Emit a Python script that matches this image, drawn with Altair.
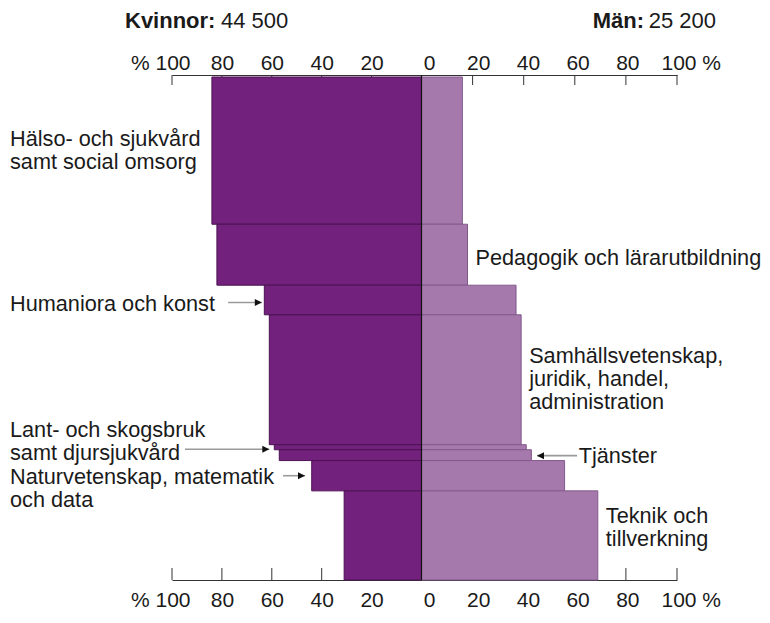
import altair as alt
import pandas as pd

# ---------------- data ----------------
categories = [
    "Hälso- och sjukvård samt social omsorg",
    "Pedagogik och lärarutbildning",
    "Humaniora och konst",
    "Samhällsvetenskap, juridik, handel, administration",
    "Lant- och skogsbruk samt djursjukvård",
    "Tjänster",
    "Naturvetenskap, matematik och data",
    "Teknik och tillverkning",
]
label_lines = [
    ["Hälso- och sjukvård", "samt social omsorg"],
    ["Pedagogik och lärarutbildning"],
    ["Humaniora och konst"],
    ["Samhällsvetenskap,", "juridik, handel,", "administration"],
    ["Lant- och skogsbruk", "samt djursjukvård"],
    ["Tjänster"],
    ["Naturvetenskap, matematik", "och data"],
    ["Teknik och", "tillverkning"],
]
label_side = ["left", "right", "left", "right", "left", "arrow_right", "left", "right"]
women_pct = [84, 82, 63, 61, 59, 57, 44, 31]
men_pct = [16, 18, 37, 39, 41, 43, 56, 69]
graduates = [20400, 8450, 4100, 18000, 700, 1500, 4200, 12350]
total_women = 44500
total_men = 25200
tick_values = [-100, -80, -60, -40, -20, 0, 20, 40, 60, 80, 100]

# ---------------- layout / style ----------------
W, H = 505, 503
ZERO_PX = 249.5
FONT = "Liberation Sans, Arial, sans-serif"
TXT = "#1a1a1a"
WOMEN_FILL, WOMEN_STROKE = "#72217c", "#4c1053"
MEN_FILL, MEN_STROKE = "#a679ad", "#82598b"
AXIS_COLOR = "#333333"
LABEL_SIZE = 21.7
LINE_H = 23

label_dy_px = [-12, 3, 4, -24, -17.5, 1, 1.5, -19]    # nudge of first line from band middle
arrow_gap = {2: 1.0, 4: 2.0, 6: 2.7, 5: 2.2}          # in % units from bar edge
arrow_len = {2: 13.5, 4: 33.8, 6: 8.8, 5: 15.7}
arrow_dy_px = {2: 2.5, 4: 2.0, 6: 0.0, 5: 0.5}

total = sum(graduates)
per_px = total / H
starts, acc = [], 0
for g in graduates:
    starts.append(acc)
    acc += g
ends = [s + g for s, g in zip(starts, graduates)]
mids = [(s + e) / 2 for s, e in zip(starts, ends)]

bars = pd.DataFrame({
    "cat": categories,
    "start": starts,
    "end": ends,
    "wneg": [-w for w in women_pct],
    "men": men_pct,
})

tick_df = pd.DataFrame({
    "v": tick_values,
    "off": [(7 - 0.07 * v) if v > 0 else 0 for v in tick_values],
})

left_rows, right_rows, tj_rows, arrow_rows = [], [], [], []
for i, side in enumerate(label_side):
    ly = mids[i] + label_dy_px[i] * per_px
    if side == "left":
        left_rows.append({"lines": label_lines[i], "ly": ly})
    elif side == "right":
        right_rows.append({"lines": label_lines[i], "ly": ly, "x": men_pct[i]})
    if i in arrow_gap:
        ay = mids[i] + arrow_dy_px[i] * per_px
        if side == "left":
            tip = -(women_pct[i] + arrow_gap[i])
            start = tip - arrow_len[i]
            path = "M0,0L-2,-1L-2,1Z"
        else:
            tip = men_pct[i] + arrow_gap[i]
            start = tip + arrow_len[i]
            path = "M0,0L2,-1L2,1Z"
            tj_rows.append({"lines": label_lines[i], "ly": ly, "x": start + 0.6})
        arrow_rows.append({"tip": tip, "start": start, "ay": ay, "path": path})

left_df = pd.DataFrame(left_rows)
right_df = pd.DataFrame(right_rows)
tj_df = pd.DataFrame(tj_rows)
arrow_df = pd.DataFrame(arrow_rows)


def fmt(n):
    return f"{n:,}".replace(",", " ")


title_df = pd.DataFrame({"a": [0]})

x_scale = alt.Scale(domain=[-100, 0, 100], range=[0, ZERO_PX, W], nice=False, zero=False)
y_scale = alt.Scale(domain=[0, total], range=[0, H], nice=False, zero=False)

label_expr = ("datum.value == -100 ? '% 100' : datum.value == 100 ? '100 %' : "
              "format(abs(datum.value), 'd')")
align_expr = "datum.value == -100 ? 'right' : datum.value == 100 ? 'left' : 'center'"
offset_expr = ("datum.value == -100 ? 18 : datum.value == 100 ? -16 : "
               "datum.value == 0 ? 7.5 : datum.value > 0 ? 7 - 0.07 * datum.value : 0")


def make_axis(orient, pad, offset):
    return alt.Axis(
        orient=orient, values=tick_values, ticks=False, tickSize=0,
        labelPadding=pad, offset=offset, domainColor=AXIS_COLOR, domainWidth=1,
        labelFont=FONT, labelFontSize=21, labelColor=TXT, grid=False, title=None,
        labelExpr=label_expr, labelFlush=False, labelOverlap=False, labelBound=False,
        labelAlign={"expr": align_expr}, labelOffset={"expr": offset_expr},
    )


ticks_top = alt.Chart(tick_df).mark_rule(color=AXIS_COLOR, strokeWidth=1).encode(
    x=alt.X("v:Q", scale=x_scale, axis=None),
    xOffset=alt.XOffset("off:Q", scale=None),
    y=alt.value(-2), y2=alt.value(8),
)
ticks_bottom = alt.Chart(tick_df).mark_rule(color=AXIS_COLOR, strokeWidth=1).encode(
    x=alt.X("v:Q", scale=x_scale, axis=None),
    xOffset=alt.XOffset("off:Q", scale=None),
    y=alt.value(H - 12), y2=alt.value(H),
)

women = alt.Chart(bars).mark_rect(fill=WOMEN_FILL, stroke=WOMEN_STROKE, strokeWidth=1).encode(
    x=alt.X("wneg:Q", scale=x_scale, axis=make_axis("top", 2, 2)),
    x2=alt.datum(0),
    y=alt.Y("start:Q", scale=y_scale, axis=None),
    y2="end:Q",
)
men = alt.Chart(bars).mark_rect(fill=MEN_FILL, stroke=MEN_STROKE, strokeWidth=1).encode(
    x=alt.X("men:Q", scale=x_scale, axis=make_axis("bottom", 9, 0)),
    x2=alt.datum(0),
    y=alt.Y("start:Q", scale=y_scale, axis=None),
    y2="end:Q",
)

zero_line = alt.Chart(pd.DataFrame({"v": [0]})).mark_rule(color="#111", strokeWidth=1.2).encode(
    x=alt.X("v:Q", scale=x_scale, axis=None),
    y=alt.value(-2), y2=alt.value(H),
)

arrow_lines = alt.Chart(arrow_df).mark_rule(color="#9a9a9a", strokeWidth=1.6).encode(
    x=alt.X("start:Q", scale=x_scale, axis=None),
    x2="tip:Q",
    y=alt.Y("ay:Q", scale=y_scale, axis=None),
)
arrow_heads = alt.Chart(arrow_df).mark_point(filled=True, size=49, color="#111", opacity=1).encode(
    x=alt.X("tip:Q", scale=x_scale, axis=None),
    y=alt.Y("ay:Q", scale=y_scale, axis=None),
    shape=alt.Shape("path:N", scale=None),
)

text_kw = dict(font=FONT, fontSize=LABEL_SIZE, color=TXT, lineHeight=LINE_H, baseline="middle")
left_text = alt.Chart(left_df).mark_text(align="left", **text_kw).encode(
    x=alt.value(-162),
    y=alt.Y("ly:Q", scale=y_scale, axis=None),
    text="lines",
)
right_text = alt.Chart(right_df).mark_text(align="left", dx=8, **text_kw).encode(
    x=alt.X("x:Q", scale=x_scale, axis=None),
    y=alt.Y("ly:Q", scale=y_scale, axis=None),
    text="lines",
)
tj_text = alt.Chart(tj_df).mark_text(align="left", **text_kw).encode(
    x=alt.X("x:Q", scale=x_scale, axis=None),
    y=alt.Y("ly:Q", scale=y_scale, axis=None),
    text="lines",
)

title_kw = dict(font=FONT, fontSize=22, color=TXT, baseline="alphabetic")
TITLE_Y = -49
t1 = alt.Chart(title_df).mark_text(align="left", fontWeight="bold", **title_kw).encode(
    x=alt.value(-47), y=alt.value(TITLE_Y), text=alt.value("Kvinnor:"))
t2 = alt.Chart(title_df).mark_text(align="left", **title_kw).encode(
    x=alt.value(49), y=alt.value(TITLE_Y), text=alt.value(fmt(total_women)))
t3 = alt.Chart(title_df).mark_text(align="right", fontWeight="bold", **title_kw).encode(
    x=alt.value(472), y=alt.value(TITLE_Y), text=alt.value("Män:"))
t4 = alt.Chart(title_df).mark_text(align="right", **title_kw).encode(
    x=alt.value(544), y=alt.value(TITLE_Y), text=alt.value(fmt(total_men)))

chart = alt.layer(
    ticks_top, ticks_bottom, women, men, zero_line,
    arrow_lines, arrow_heads, left_text, right_text, tj_text, t1, t2, t3, t4,
).properties(
    width=W, height=H,
    padding={"left": 164, "top": 69, "right": 85, "bottom": 30},
    autosize=alt.AutoSizeParams(type="none"),
).configure_view(stroke=None)

chart.save("out.html", embed_options={"renderer": "svg", "actions": False})
